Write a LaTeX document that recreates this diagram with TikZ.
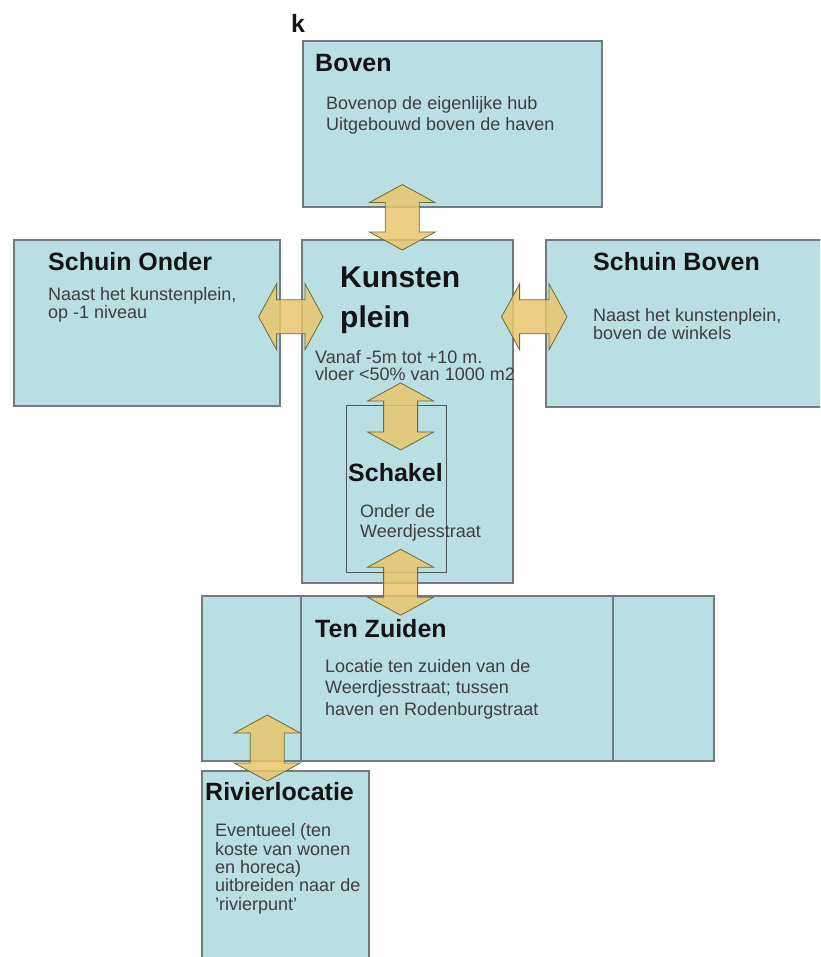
\documentclass[tikz,border=0pt]{standalone}
\usepackage{fontspec}
\setmainfont{Liberation Sans}
\usetikzlibrary{calc}

\definecolor{boxfill}{HTML}{BADFE3}
\definecolor{boxline}{HTML}{6F7C7E}
\definecolor{arrowfill}{HTML}{E8C66C}
\definecolor{arrowline}{HTML}{6E6A3C}
\definecolor{bodytext}{HTML}{3E3E3E}

% double block arrow from #1 to #2
\newcommand{\biarrow}[2]{%
  \coordinate (ha) at ($(#1)!18pt!(#2)$);
  \coordinate (hb) at ($(#2)!18pt!(#1)$);
  \filldraw[blockarrow] (#1) -- ($(ha)!33pt!90:(#2)$) -- ($(ha)!17pt!90:(#2)$)
    -- ($(hb)!17pt!-90:(#1)$) -- ($(hb)!33pt!-90:(#1)$) -- (#2)
    -- ($(hb)!33pt!90:(#1)$) -- ($(hb)!17pt!90:(#1)$)
    -- ($(ha)!17pt!-90:(#2)$) -- ($(ha)!33pt!-90:(#2)$) -- cycle;}

\begin{document}
\begin{tikzpicture}[x=1pt, y=-1pt,
    box/.style={draw=boxline, fill=boxfill, line width=1.6pt, rectangle, inner sep=0pt, anchor=north west},
    title/.style={font=\bfseries\fontsize{25}{30}\selectfont, text=black!92, inner sep=0pt, anchor=base west},
    body/.style={font=\fontsize{18}{#1}\selectfont, text=bodytext, inner sep=0pt, anchor=base west, align=left},
    body/.default=20,
    blockarrow/.style={fill=arrowfill, fill opacity=0.85, draw=arrowline, line width=0.8pt}]
    \useasboundingbox (0,0) rectangle (820,957);
    \clip (0,0) rectangle (820,957);

    % Boxes
    \node[box, minimum width=299pt, minimum height=166pt] (boven) at (302,40) {};
    \node[box, minimum width=266pt, minimum height=166pt] (so) at (13,239) {};
    \node[box, minimum width=211pt, minimum height=343pt] (kunst) at (301,239) {};
    \node[box, minimum width=280pt, minimum height=167pt] (sb) at (545,239) {};
    \node[box, draw=boxline!70!black, line width=1.2pt, minimum width=100pt, minimum height=167pt] (schakel) at (346,405) {};
    \node[box, minimum width=99pt, minimum height=165pt] (tzl) at (201,595) {};
    \node[box, minimum width=312pt, minimum height=165pt] (tz) at (300,595) {};
    \node[box, line width=2.4pt, minimum width=101pt, minimum height=165pt] (tzr) at (612,595) {};
    \node[box, minimum width=167pt, minimum height=195pt] (riv) at (201,770) {};

    % Arrows between the boxes
    \coordinate (a1) at ($(boven.south)+(-50,-23)$);
    \coordinate (a2) at ($(kunst.north)+(-5,11)$);
    \biarrow{a1}{a2}
    \coordinate (b1) at ($(so.east)+(-22,-6)$);
    \coordinate (b2) at ($(so.east -| kunst.west)+(22,-6)$);
    \biarrow{b1}{b2}
    \coordinate (c1) at ($(sb.west -| kunst.east)+(-12,-6.5)$);
    \coordinate (c2) at ($(sb.west)+(22,-6.5)$);
    \biarrow{c1}{c2}
    \coordinate (d1) at ($(schakel.north)+(4,-22)$);
    \coordinate (d2) at ($(schakel.north)+(4,45)$);
    \biarrow{d1}{d2}
    \coordinate (e1) at ($(schakel.south)+(4,-24)$);
    \coordinate (e2) at ($(schakel.south)+(4,42)$);
    \biarrow{e1}{e2}
    \coordinate (f1) at ($(riv.north)+(-18,-55)$);
    \coordinate (f2) at ($(riv.north)+(-18,11)$);
    \biarrow{f1}{f2}

    % Texts (base = baseline of the last line)
    \node[title] (k) at (291,33) {k};
    \node[title] (bovent) at ($(boven.north west)+(13,32)$) {Boven};
    \node[body=21] (bovenb) at ($(boven.north west)+(24,91)$) {Bovenop de eigenlijke hub\\Uitgebouwd boven de haven};
    \node[title] (sot) at ($(so.north west)+(35,31)$) {Schuin Onder};
    \node[body=16.7] (sob) at ($(so.north west)+(35,79)$) {Naast het kunstenplein,\\op -1 niveau};
    \node[title] (sbt) at ($(sb.north west)+(48,31)$) {Schuin Boven};
    \node[body=16.7] (sbb) at ($(sb.north west)+(48,100)$) {Naast het kunstenplein,\\boven de winkels};
    \node[title, font=\bfseries\fontsize{30}{40}\selectfont, align=left] (kunstt) at ($(kunst.north west)+(39,88)$) {Kunsten\\plein};
    \node[body=17] (kunstb) at ($(kunst.north west)+(14,141)$) {Vanaf -5m tot +10 m.\\vloer <50\% van 1000 m2};
    \node[title] (schakelt) at ($(schakel.north west)+(2,76)$) {Schakel};
    \node[body=20] (schakelb) at ($(schakel.north west)+(14,132)$) {Onder de\\Weerdjesstraat};
    \node[title] (tzt) at ($(tz.north west)+(15,42)$) {Ten Zuiden};
    \node[body=21.5] (tzb) at ($(tz.north west)+(25,120)$) {Locatie ten zuiden van de\\Weerdjesstraat; tussen\\haven en Rodenburgstraat};
    \node[title] (rivt) at ($(riv.north west)+(4,30)$) {Rivierlocatie};
    \node[body=18.3] (rivb) at ($(riv.north west)+(14,140)$) {Eventueel (ten\\koste van wonen\\en horeca)\\uitbreiden naar de\\'rivierpunt'};
\end{tikzpicture}
\end{document}
